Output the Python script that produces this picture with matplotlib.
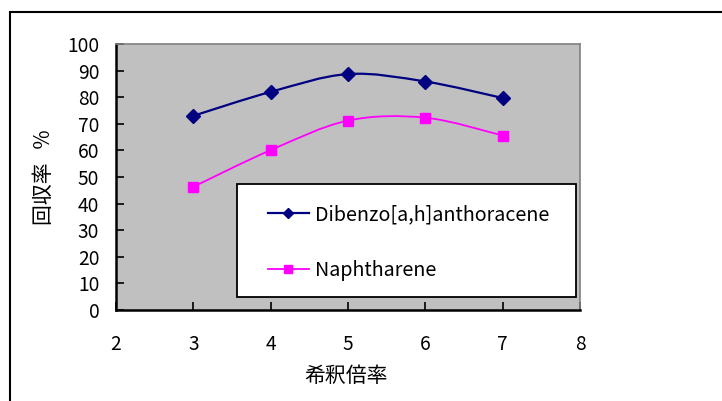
import matplotlib
matplotlib.use("Agg")
import matplotlib.pyplot as plt
import numpy as np
from matplotlib.path import Path
from matplotlib.patches import PathPatch, Rectangle
from matplotlib.lines import Line2D

plt.rcParams['font.family'] = ['Noto Sans CJK JP', 'DejaVu Sans']

# dilution factor vs. recovery (%)
dilution = [3, 4, 5, 6, 7]
dibenzo = [73.0, 82.0, 88.7, 85.9, 79.7]
naphtharene = [46.3, 60.1, 71.2, 72.3, 65.6]

series_names = ['Dibenzo[a,h]anthoracene', 'Naphtharene']
x_ticks = [2, 3, 4, 5, 6, 7, 8]
y_ticks = list(range(0, 101, 10))
x_label = '希釈倍率'
y_label = '回収率   %'


def smooth_path(xs, ys):
    """Catmull-Rom style bezier through the points (spreadsheet 'smoothed line')."""
    pts = np.column_stack([xs, ys]).astype(float)
    n = len(pts)
    verts = [pts[0]]
    codes = [Path.MOVETO]
    for i in range(n - 1):
        p0 = pts[max(i - 1, 0)]
        p1 = pts[i]
        p2 = pts[i + 1]
        p3 = pts[min(i + 2, n - 1)]
        c1 = p1 + (p2 - p0) / 6.0
        c2 = p2 - (p3 - p1) / 6.0
        verts += [c1, c2, p2]
        codes += [Path.CURVE4] * 3
    return Path(verts, codes)


W, H = 722, 401
fig = plt.figure(figsize=(W / 100, H / 100), dpi=100)

# outer chart border (runs off the right and bottom edges)
fig.add_artist(Rectangle((10 / W, -0.1), 1.2, (H - 12) / H + 0.1,
                         transform=fig.transFigure, fill=False,
                         edgecolor='black', linewidth=1.5))

ax = fig.add_axes([116 / W, (H - 310) / H, (580 - 116) / W, (310 - 44) / H])
ax.set_facecolor('#C0C0C0')
ax.set_xlim(2, 8)
ax.set_ylim(0, 100)
ax.set_xticks(x_ticks)
ax.set_yticks(y_ticks)
ax.tick_params(direction='in', length=6, width=1.2, labelsize=13.8, color='black')
ax.tick_params(axis='y', pad=12)
ax.tick_params(axis='x', pad=17)

for side in ('top', 'right'):
    ax.spines[side].set_color('#808080')
    ax.spines[side].set_linewidth(1.2)
for side in ('left', 'bottom'):
    ax.spines[side].set_color('black')
    ax.spines[side].set_linewidth(1.8)

styles = [
    dict(color='#000080', marker='D', ms=7, lw=1.6),
    dict(color='#FF00FF', marker='s', ms=7, lw=1.3),
]

handles = []
for ys, name, st in zip([dibenzo, naphtharene], series_names, styles):
    ax.add_patch(PathPatch(smooth_path(dilution, ys), facecolor='none',
                           edgecolor=st['color'], linewidth=st['lw'], zorder=3))
    ax.plot(dilution, ys, linestyle='none', marker=st['marker'],
            markersize=st['ms'], color=st['color'], zorder=4)
    handles.append(Line2D([], [], color=st['color'], lw=st['lw'],
                          marker=st['marker'], markersize=st['ms'] - 1.5))

# legend box, drawn inside the axes so the legend sits on top of it
box = Rectangle((237 / W, (H - 297) / H), (576 - 237) / W, (297 - 184) / H,
                transform=fig.transFigure, facecolor='white',
                edgecolor='black', linewidth=1.3, zorder=5, clip_on=False)
ax.add_patch(box)
leg = ax.legend(handles, series_names, loc='upper left', frameon=False,
                bbox_to_anchor=(268 / W, (H - 204) / H), bbox_transform=fig.transFigure,
                borderpad=0, borderaxespad=0, handlelength=2.06, handletextpad=0.3,
                labelspacing=1.78, fontsize=14.2)
leg.set_zorder(6)

ax.set_xlabel(x_label, fontsize=15)
ax.set_ylabel(y_label, fontsize=15)
ax.xaxis.set_label_coords((346 - 116) / 464, (310 - 376) / 266)
ax.xaxis.label.set_va('center')
ax.yaxis.set_label_coords((44 - 116) / 464, (310 - 177) / 266)
ax.yaxis.label.set_va('center')

fig.savefig('out.png', dpi=100)
